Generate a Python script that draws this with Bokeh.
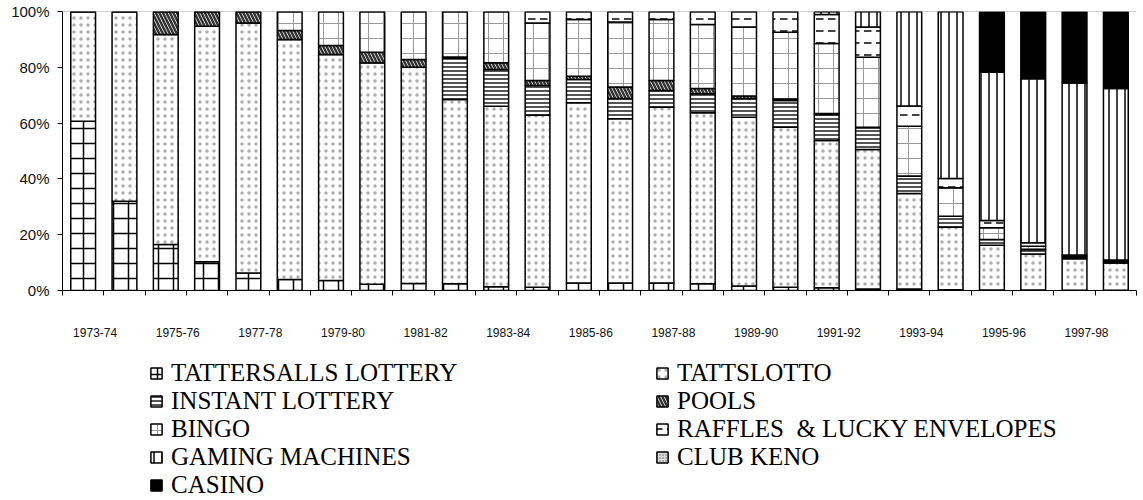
from bokeh.plotting import figure
from bokeh.layouts import column
from bokeh.models import (ColumnDataSource, Range1d, FixedTicker, Legend,
                          LegendItem, Span)
from bokeh.transform import stack
from bokeh.embed import file_html
from bokeh.resources import INLINE

# ---------------- data (percent share of gambling expenditure) ----------------
years = ["1973-74", "1974-75", "1975-76", "1976-77", "1977-78", "1978-79",
         "1979-80", "1980-81", "1981-82", "1982-83", "1983-84", "1984-85",
         "1985-86", "1986-87", "1987-88", "1988-89", "1989-90", "1990-91",
         "1991-92", "1992-93", "1993-94", "1994-95", "1995-96", "1996-97",
         "1997-98", "1998-99"]

tattersalls = [60.7, 32.0, 16.5, 10.3, 6.3, 3.9, 3.6, 2.2, 2.5, 2.4, 1.3, 1.2,
               2.7, 2.7, 2.7, 2.4, 1.6, 1.2, 1.0, 0.5, 0.5, 0.3, 0.2, 0.2, 0.1, 0.1]
tattslotto = [39.3, 68.0, 75.3, 84.4, 89.6, 86.1, 81.0, 79.4, 77.5, 66.1, 64.7, 61.6,
              64.6, 58.9, 63.0, 61.3, 60.5, 57.3, 52.8, 50.0, 34.3, 22.4, 16.0, 12.9,
              11.3, 9.8]
instant = [0, 0, 0, 0, 0, 0, 0, 0, 0, 14.7, 13.2, 10.7,
           8.3, 7.2, 6.0, 6.8, 6.7, 9.6, 9.3, 7.8, 6.2, 3.9, 2.1, 1.6, 0.6, 0.5]
pools = [0, 0, 8.2, 5.3, 4.1, 3.2, 3.2, 3.8, 2.8, 0.5, 2.4, 1.8,
         1.2, 4.1, 3.6, 1.9, 0.9, 0.5, 0.3, 0.2, 0, 0, 0, 0, 0, 0]
bingo = [0, 0, 0, 0, 0, 6.8, 12.2, 14.6, 17.2, 16.3, 18.4, 20.6,
         20.3, 23.3, 21.8, 22.9, 24.7, 24.0, 25.1, 25.1, 17.9, 10.2, 4.2, 1.2, 0.4, 0.3]
raffles = [0, 0, 0, 0, 0, 0, 0, 0, 0, 0, 0, 4.1,
           2.9, 3.8, 2.9, 4.7, 5.6, 7.4, 10.4, 10.8, 7.2, 3.3, 2.6, 1.2, 0.3, 0.2]
gaming = [0, 0, 0, 0, 0, 0, 0, 0, 0, 0, 0, 0,
          0, 0, 0, 0, 0, 0, 1.1, 5.6, 33.9, 59.9, 53.2, 58.8, 61.7, 61.5]
keno = [0, 0, 0, 0, 0, 0, 0, 0, 0, 0, 0, 0,
        0, 0, 0, 0, 0, 0, 0, 0, 0, 0, 0, 0.3, 0.3, 0.2]
casino = [0, 0, 0, 0, 0, 0, 0, 0, 0, 0, 0, 0,
          0, 0, 0, 0, 0, 0, 0, 0, 0, 0, 21.7, 23.8, 25.3, 27.4]

labels = ["TATTERSALLS LOTTERY", "TATTSLOTTO", "INSTANT LOTTERY", "POOLS",
          "BINGO", "RAFFLES  & LUCKY ENVELOPES", "GAMING MACHINES",
          "CLUB KENO", "CASINO"]
keys = ["tatt", "lotto", "instant", "pools", "bingo", "raffles", "gaming",
        "keno", "casino"]
values = [tattersalls, tattslotto, instant, pools, bingo, raffles, gaming,
          keno, casino]
y_ticks = [0, 20, 40, 60, 80, 100]

# ---------------- styles ----------------
styles = {
    "tatt":    dict(fill_color="white", hatch_pattern="+", hatch_scale=15, hatch_weight=1.5, hatch_color="black"),
    "lotto":   dict(fill_color="white", hatch_pattern=".", hatch_scale=7, hatch_alpha=0.4, hatch_color="#333333"),
    "instant": dict(fill_color="white", hatch_pattern="-", hatch_scale=4, hatch_weight=2, hatch_color="#555555"),
    "pools":   dict(fill_color="white", hatch_pattern="\\", hatch_scale=7, hatch_weight=2.5, hatch_color="#333333"),
    "bingo":   dict(fill_color="white", hatch_pattern="+", hatch_scale=15, hatch_weight=1, hatch_color="#999999"),
    "raffles": dict(fill_color="white", hatch_pattern='"', hatch_scale=12, hatch_weight=2, hatch_color="#444444"),
    "gaming":  dict(fill_color="white", hatch_pattern="|", hatch_scale=8, hatch_weight=2, hatch_color="#444444"),
    "keno":    dict(fill_color="#dddddd", hatch_pattern=".", hatch_scale=3, hatch_color="#666666"),
    "casino":  dict(fill_color="black"),
}

CAT = 100  # x units per category
data = {"x": [i * CAT + CAT / 2 for i in range(len(years))]}
for k, v in zip(keys, values):
    data[k] = v
source = ColumnDataSource(data)

p = figure(width=1143, height=342, output_backend="svg", toolbar_location=None,
           x_range=Range1d(0, CAT * len(years)), y_range=Range1d(0, 100),
           min_border_left=62, min_border_right=7, min_border_top=11,
           min_border_bottom=52)
p.outline_line_color = None
p.xgrid.visible = False
p.ygrid.visible = False

for i, k in enumerate(keys):
    p.vbar(x="x", width=60, bottom=stack(*keys[:i]), top=stack(*keys[:i + 1]),
           source=source, line_color="black", line_width=1.5, **styles[k])

p.add_layout(Span(location=100, dimension="width", line_color="#a0a0a0", line_width=1))

# x axis: boundary tick marks (minor), labels every second year (major)
label_pos = [i * CAT + 79 for i in range(0, len(years), 2)]
p.xaxis.ticker = FixedTicker(ticks=label_pos,
                             minor_ticks=[i * CAT for i in range(len(years) + 1)])
p.xaxis.major_label_overrides = {pos: years[i * 2] for i, pos in enumerate(label_pos)}
p.xaxis.major_tick_in = 0
p.xaxis.major_tick_out = 0
p.xaxis.minor_tick_in = 0
p.xaxis.minor_tick_out = 5
p.xaxis.minor_tick_line_color = "black"
p.xaxis.major_label_standoff = 32
p.xaxis.major_label_text_font = "Liberation Sans"
p.xaxis.major_label_text_font_size = "12px"
p.xaxis.major_label_text_color = "#111111"
p.xaxis.axis_line_color = "black"

p.yaxis.ticker = FixedTicker(ticks=y_ticks)
p.yaxis.major_label_overrides = {t: f"{t}%" for t in y_ticks}
p.yaxis.major_tick_in = 0
p.yaxis.major_tick_out = 5
p.yaxis.minor_tick_line_color = None
p.yaxis.major_label_standoff = 8
p.yaxis.major_label_text_font = "Liberation Sans"
p.yaxis.major_label_text_font_size = "15px"
p.yaxis.major_label_text_color = "#111111"
p.yaxis.axis_line_color = "black"

# ---------------- legend panel ----------------
p2 = figure(width=1143, height=158, output_backend="svg", toolbar_location=None,
            x_axis_type=None, y_axis_type=None,
            min_border_left=62, min_border_right=7, min_border_top=0,
            min_border_bottom=0, x_range=Range1d(0, 1), y_range=Range1d(0, 1))
p2.outline_line_color = None

# legend swatches: zero-size bars (nothing visible), used only for the legend
legend_renderers = {}
for k in keys:
    swatch = ColumnDataSource(dict(x=[0.5], top=[0.5], bottom=[0.5]))
    legend_renderers[k] = p2.vbar(x="x", top="top", bottom="bottom", width=0,
                                  source=swatch, line_color="black",
                                  line_width=1.5, **styles[k])


def make_legend(idx, loc):
    items = [LegendItem(label=labels[j], renderers=[legend_renderers[keys[j]]]) for j in idx]
    return Legend(items=items, location=loc, orientation="vertical",
                  padding=0, margin=0, spacing=0, label_standoff=8,
                  glyph_width=14, glyph_height=14, label_height=28,
                  label_text_font="Liberation Serif", label_text_font_size="25px",
                  label_text_color="black", border_line_color=None,
                  background_fill_alpha=0)


p2.add_layout(make_legend([0, 2, 4, 6, 8], (149 - 62, 1)))
p2.add_layout(make_legend([1, 3, 5, 7], (655 - 62, 29)))

layout = column(p, p2, spacing=0)
open("out.html", "w").write(file_html(layout, INLINE))
